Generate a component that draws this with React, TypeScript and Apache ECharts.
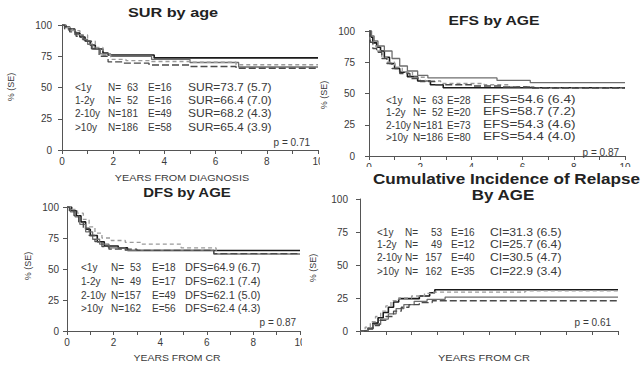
import React, { useEffect, useRef } from 'react';
import * as echarts from 'echarts';

const AGE_GROUPS = ['<1y', '1-2y', '2-10y', '>10y'];
const P_VALUES = ['0.71', '0.87', '0.87', '0.61'];

// Overall survival by age, years from diagnosis: [years, %]
const SUR_LT1 = [[0, 100], [0.15, 98.4], [0.3, 96.8], [0.5, 93.6], [0.7, 90.4], [0.9, 87.2], [1.1, 84], [1.3, 80.8], [1.6, 77.6], [1.8, 76.0], [3.6, 73.7], [10, 73.7]];
const SUR_1TO2 = [[0, 100], [0.1, 98], [0.25, 96], [0.5, 92.3], [0.8, 88.4], [1.0, 84.6], [1.2, 80.7], [1.5, 76.9], [1.9, 75.0], [3.5, 72.5], [5.0, 70.0], [6.9, 66.4], [10, 66.4]];
const SUR_2TO10 = [[0, 100], [0.2, 98], [0.4, 95.5], [0.7, 92], [1.0, 87], [1.3, 82], [1.6, 76], [1.9, 72.5], [2.5, 71.5], [3.5, 70.8], [5.0, 70.2], [6.8, 68.2], [10, 68.2]];
const SUR_GT10 = [[0, 100], [0.1, 97], [0.3, 94.5], [0.55, 91], [0.85, 87], [1.15, 81], [1.45, 75], [1.8, 70.5], [2.4, 69.5], [3.4, 68], [5.0, 66.8], [6.8, 65.4], [10, 65.4]];

// Event-free survival by age
const EFS_LT1 = [[0, 100], [0.08, 95], [0.15, 90.5], [0.3, 87], [0.45, 84], [0.6, 79], [0.8, 74], [1.0, 70], [1.2, 67], [1.5, 63.5], [1.9, 60], [2.4, 57], [2.9, 54.6], [10, 54.6]];
const EFS_1TO2 = [[0, 100], [0.1, 96], [0.2, 92], [0.35, 88], [0.6, 84], [0.9, 78], [1.2, 72], [1.5, 68], [1.9, 64.5], [2.3, 62.5], [5.0, 60.5], [6.3, 58.7], [10, 58.7]];
const EFS_2TO10 = [[0, 100], [0.05, 93], [0.15, 88], [0.3, 84], [0.5, 79], [0.7, 75], [1.0, 71], [1.3, 67], [1.7, 63], [2.2, 60], [2.8, 58], [4.5, 57], [5.5, 55.5], [6.5, 54.3], [10, 54.3]];
const EFS_GT10 = [[0, 100], [0.05, 91], [0.15, 86], [0.3, 83], [0.5, 78], [0.7, 74], [0.9, 70], [1.2, 66], [1.6, 62], [2.0, 59.5], [2.6, 57], [4.0, 56], [5.2, 55.2], [6.3, 54.4], [10, 54.4]];

// Disease-free survival by age, years from CR
const DFS_LT1 = [[0, 100], [0.2, 97], [0.4, 93], [0.6, 88], [0.8, 82], [1.0, 77], [1.3, 72], [1.6, 68.5], [2.2, 67], [2.6, 64.9], [10, 64.9]];
const DFS_1TO2 = [[0, 100], [0.15, 96], [0.35, 92], [0.55, 86], [0.8, 80], [1.1, 74], [1.4, 70], [1.8, 67], [2.5, 65], [6.3, 62.1], [10, 62.1]];
const DFS_2TO10 = [[0, 100], [0.2, 98], [0.45, 95], [0.7, 90], [0.95, 84], [1.2, 79], [1.5, 75], [1.9, 73], [2.5, 71.5], [3.2, 70], [4.9, 67], [6.4, 62.1], [10, 62.1]];
const DFS_GT10 = [[0, 100], [0.1, 97], [0.3, 93], [0.5, 88], [0.7, 83], [0.95, 77], [1.2, 72], [1.5, 68], [1.8, 66], [3.0, 65], [6.3, 62.4], [10, 62.4]];

// Cumulative incidence of relapse by age
const CIR_LT1 = [[0, 0], [0.3, 2], [0.5, 6], [0.7, 10], [0.9, 14], [1.1, 18], [1.3, 22], [1.5, 24.5], [2.3, 26.5], [2.7, 29], [2.9, 31.3], [10, 31.3]];
const CIR_1TO2 = [[0, 0], [0.3, 2], [0.5, 5], [0.8, 9], [1.1, 13], [1.4, 17], [1.7, 20], [2.1, 22.5], [2.6, 24], [3.3, 25.7], [10, 25.7]];
const CIR_2TO10 = [[0, 0], [0.2, 3], [0.4, 7], [0.6, 11], [0.8, 15], [1.0, 19], [1.2, 23], [1.5, 25], [2.0, 26.5], [2.5, 28.5], [2.8, 29.5], [6.4, 30.5], [10, 30.5]];
const CIR_GT10 = [[0, 0], [0.25, 1.5], [0.5, 4], [0.75, 8], [1.0, 11], [1.3, 15], [1.6, 18], [1.9, 20], [2.3, 21.5], [2.8, 22.9], [10, 22.9]];

// Summary tables
const SUR_N = [63, 52, 181, 186];
const SUR_E = [16, 16, 49, 58];
const SUR_EST = [73.7, 66.4, 68.2, 65.4];
const SUR_SE = [5.7, 7.0, 4.3, 3.9];

const EFS_N = [63, 52, 181, 186];
const EFS_E = [28, 20, 73, 80];
const EFS_EST = [54.6, 58.7, 54.3, 54.4];
const EFS_SE = [6.4, 7.2, 4.6, 4.0];

const DFS_N = [53, 49, 157, 162];
const DFS_E = [18, 17, 49, 56];
const DFS_EST = [64.9, 62.1, 62.1, 62.4];
const DFS_SE = [6.7, 7.4, 5.0, 4.3];

const CIR_N = [53, 49, 157, 162];
const CIR_E = [16, 12, 40, 35];
const CIR_EST = [31.3, 25.7, 30.5, 22.9];
const CIR_SE = [6.5, 6.4, 4.7, 3.4];

const LINE_STYLES = [
  { color: '#1a1a1a', width: 1.6, type: 'solid' },
  { color: '#6e6e6e', width: 1.3, type: 'solid' },
  { color: '#9a9a9a', width: 1.3, type: [4, 3] },
  { color: '#4a4a4a', width: 1.3, type: [7, 3] },
];

const FONT = 'Liberation Sans, Arial, sans-serif';
const AXIS_COLOR = '#555';
const TEXT_COLOR = '#3a3a3a';

type Panel = {
  grid: { left: number; top: number; width: number; height: number };
  curves: number[][][];
  showXLabels: boolean;
  yMargin: number;
  stat: string;
  n: number[]; e: number[]; est: number[]; se: number[];
  cols: number[]; // group, "N=", N (right edge), "E=", estimate
  estScale: number;
  rows: number[];
  pPos: [number, number];
};

const PANELS: Panel[] = [
  {
    grid: { left: 62, top: 25, width: 256, height: 125 },
    curves: [SUR_LT1, SUR_1TO2, SUR_2TO10, SUR_GT10],
    showXLabels: true, yMargin: 10,
    stat: 'SUR', n: SUR_N, e: SUR_E, est: SUR_EST, se: SUR_SE,
    cols: [75, 108, 138, 148, 188], estScale: 1.2,
    rows: [87, 100, 113, 127], pPos: [310, 142],
  },
  {
    grid: { left: 369, top: 31, width: 256, height: 125 },
    curves: [EFS_LT1, EFS_1TO2, EFS_2TO10, EFS_GT10],
    showXLabels: true, yMargin: 14,
    stat: 'EFS', n: EFS_N, e: EFS_E, est: EFS_EST, se: EFS_SE,
    cols: [386, 413, 443, 447, 483], estScale: 1.36,
    rows: [100, 112, 125, 137], pPos: [619, 152],
  },
  {
    grid: { left: 67, top: 207, width: 233, height: 124 },
    curves: [DFS_LT1, DFS_1TO2, DFS_2TO10, DFS_GT10],
    showXLabels: true, yMargin: 8,
    stat: 'DFS', n: DFS_N, e: DFS_E, est: DFS_EST, se: DFS_SE,
    cols: [81, 111, 141, 152, 185], estScale: 1.1,
    rows: [267, 281, 295, 308], pPos: [296, 322],
  },
  {
    grid: { left: 360, top: 199, width: 258, height: 132 },
    curves: [CIR_LT1, CIR_1TO2, CIR_2TO10, CIR_GT10],
    showXLabels: false, yMargin: 12,
    stat: 'CI', n: CIR_N, e: CIR_E, est: CIR_EST, se: CIR_SE,
    cols: [377, 405, 442, 451, 490], estScale: 1.22,
    rows: [232, 244, 257, 271], pPos: [611, 322],
  },
];

function txt(x: number, y: number, text: string, o: any = {}) {
  return {
    type: 'text',
    x, y,
    z: 100,
    scaleX: o.scaleX ?? 1,
    rotation: o.rotation ?? 0,
    style: {
      text,
      fontSize: o.size ?? 10,
      fontFamily: FONT,
      fontWeight: o.bold ? 'bold' : 'normal',
      fill: o.color ?? TEXT_COLOR,
      textAlign: o.align ?? 'left',
      textVerticalAlign: 'middle',
    },
  };
}

function buildOption() {
  const grid: any[] = [];
  const xAxis: any[] = [];
  const yAxis: any[] = [];
  const series: any[] = [];
  const graphic: any[] = [];

  PANELS.forEach((p, i) => {
    grid.push({ ...p.grid, containLabel: false });
    xAxis.push({
      type: 'value', gridIndex: i, min: 0, max: 10, interval: 1,
      axisLine: { lineStyle: { color: AXIS_COLOR, width: 1 } },
      axisTick: { length: 4, lineStyle: { color: AXIS_COLOR } },
      axisLabel: {
        show: p.showXLabels, margin: 6, fontSize: 10, color: TEXT_COLOR, fontFamily: FONT,
        formatter: (v: number) => (v % 2 === 0 ? String(v) : ''),
      },
      splitLine: { show: false },
    });
    yAxis.push({
      type: 'value', gridIndex: i, min: 0, max: 100, interval: 25,
      axisLine: { show: true, lineStyle: { color: AXIS_COLOR, width: 1 } },
      axisTick: { show: true, length: 4, lineStyle: { color: AXIS_COLOR } },
      axisLabel: { margin: p.yMargin, fontSize: 10, color: TEXT_COLOR, fontFamily: FONT },
      splitLine: { show: false },
    });
    p.curves.forEach((data, k) => {
      series.push({
        type: 'line', xAxisIndex: i, yAxisIndex: i, step: 'end',
        symbol: 'none', showSymbol: false, data,
        lineStyle: LINE_STYLES[k], z: 2 + k,
      });
    });

    // summary table inside the plot
    const [c1, c2, c2r, c3, c4] = p.cols;
    AGE_GROUPS.forEach((g, r) => {
      const y = p.rows[r];
      graphic.push(txt(c1, y, g));
      graphic.push(txt(c2, y, 'N='));
      graphic.push(txt(c2r, y, String(p.n[r]), { align: 'right' }));
      graphic.push(txt(c3, y, 'E=' + p.e[r]));
      graphic.push(txt(c4, y, `${p.stat}=${p.est[r].toFixed(1)} (${p.se[r].toFixed(1)})`, { scaleX: p.estScale }));
    });
    graphic.push(txt(p.pPos[0], p.pPos[1], 'p = ' + P_VALUES[i], { align: 'right' }));
  });

  // titles
  graphic.push(txt(173, 13, 'SUR by age', { size: 13, bold: true, align: 'center', scaleX: 1.25, color: '#222' }));
  graphic.push(txt(494, 20, 'EFS by AGE', { size: 13, bold: true, align: 'center', scaleX: 1.21, color: '#222' }));
  graphic.push(txt(187, 192, 'DFS by AGE', { size: 13, bold: true, align: 'center', scaleX: 1.15, color: '#222' }));

  // strips where neighbouring panels were cut
  graphic.push({ type: 'rect', z: 90, shape: { x: 320, y: 154, width: 12, height: 16 }, style: { fill: '#fff' } });
  graphic.push({ type: 'rect', z: 90, shape: { x: 302, y: 335, width: 10, height: 16 }, style: { fill: '#fff' } });
  graphic.push({ type: 'rect', z: 90, shape: { x: 362, y: 167, width: 281, height: 20 }, style: { fill: '#fff' } });

  graphic.push(txt(373, 178, 'Cumulative Incidence of Relapse', { size: 15, bold: true, scaleX: 1.14, color: '#222' }));
  graphic.push(txt(503, 195, 'By AGE', { size: 15, bold: true, align: 'center', scaleX: 1.13, color: '#222' }));

  // axis titles
  graphic.push(txt(182, 178, 'YEARS FROM DIAGNOSIS', { size: 9, align: 'center', scaleX: 1.2 }));
  graphic.push(txt(177, 358, 'YEARS FROM CR', { size: 9, align: 'center', scaleX: 1.16 }));
  graphic.push(txt(484, 358, 'YEARS FROM CR', { size: 9, align: 'center', scaleX: 1.23 }));
  const yTitle = { size: 9, align: 'center', rotation: Math.PI / 2 };
  graphic.push(txt(11, 87, '% (SE)', yTitle));
  graphic.push(txt(324, 95, '% (SE)', yTitle));
  graphic.push(txt(28, 266, '% (SE)', yTitle));
  graphic.push(txt(313, 268, '% (SE)', yTitle));

  return {
    animation: false,
    backgroundColor: '#fff',
    grid, xAxis, yAxis, series, graphic,
  };
}

export default function App() {
  const ref = useRef<HTMLDivElement>(null);
  useEffect(() => {
    const chart = echarts.init(ref.current!, undefined, { renderer: 'svg' });
    chart.setOption(buildOption() as any);
    return () => chart.dispose();
  }, []);
  return (
    <div
      ref={ref}
      style={{ position: 'fixed', left: 0, top: 0, width: 643, height: 365, background: '#fff' }}
    />
  );
}
